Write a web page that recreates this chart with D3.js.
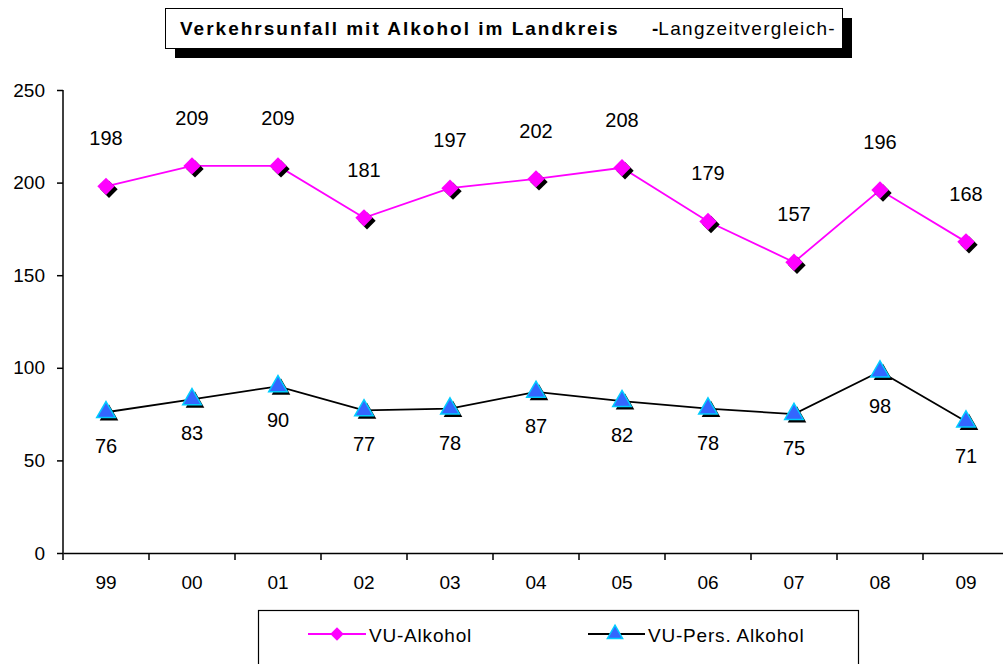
<!DOCTYPE html>
<html>
<head>
<meta charset="utf-8">
<script src="https://cdn.jsdelivr.net/npm/d3@7"></script>
<style>
  body { margin: 0; background: #fff; }
  svg { display: block; font-family: "Liberation Sans", Arial, sans-serif; }
</style>
</head>
<body>
<div id="chart"></div>
<script>
"use strict";

const years = ["99", "00", "01", "02", "03", "04", "05", "06", "07", "08", "09"];
const vuAlkohol = [198, 209, 209, 181, 197, 202, 208, 179, 157, 196, 168];
const vuPersAlkohol = [76, 83, 90, 77, 78, 87, 82, 78, 75, 98, 71];
const yTicks = [0, 50, 100, 150, 200, 250];

function _main() {
  const svg = d3.select("#chart").append("svg").attr("width", 1003).attr("height", 664);

  const xScale = d3.scaleBand().domain(years).range([63, 1009]);
  const yScale = d3.scaleLinear().domain([0, 250]).range([553, 90]);
  const cx = (i) => xScale(years[i]) + xScale.bandwidth() / 2;

  addTitle(svg);
  addAxes(svg, xScale, yScale);

  const lineGen = d3.line().x((d, i) => cx(i)).y((d) => yScale(d));
  svg.append("path").datum(vuAlkohol).attr("d", lineGen)
    .attr("fill", "none").attr("stroke", "#ff00ff").attr("stroke-width", 1.8);
  svg.append("path").datum(vuPersAlkohol).attr("d", lineGen)
    .attr("fill", "none").attr("stroke", "#000").attr("stroke-width", 1.8);

  const diamond = d3.symbol().type(d3.symbolSquare).size(150)();
  const tri = d3.symbol().type(d3.symbolTriangle).size(150)();

  vuAlkohol.forEach((v, i) => {
    const g = svg.append("g").attr("transform", `translate(${cx(i)},${yScale(v)})`);
    g.append("path").attr("d", diamond).attr("transform", "translate(3,3) rotate(45)").attr("fill", "#000");
    g.append("path").attr("d", diamond).attr("transform", "rotate(45)").attr("fill", "#ff00ff");
    svg.append("text").attr("x", cx(i)).attr("y", yScale(v) - 41)
      .attr("text-anchor", "middle").attr("font-size", 20).text(v);
  });

  vuPersAlkohol.forEach((v, i) => {
    const g = svg.append("g").attr("transform", `translate(${cx(i)},${yScale(v)})`);
    g.append("path").attr("d", tri).attr("transform", "translate(3,3)").attr("fill", "#000");
    g.append("path").attr("d", tri).attr("fill", "#3366ff").attr("stroke", "#00ccff").attr("stroke-width", 1.5);
    svg.append("text").attr("x", cx(i)).attr("y", yScale(v) + 41)
      .attr("text-anchor", "middle").attr("font-size", 20).text(v);
  });

  addLegend(svg);
}

function addTitle(svg) {
  svg.append("rect").attr("x", 175).attr("y", 18).attr("width", 677).attr("height", 40).attr("fill", "#000");
  svg.append("rect").attr("x", 165.5).attr("y", 8.5).attr("width", 677).attr("height", 40)
    .attr("fill", "#fff").attr("stroke", "#000").attr("stroke-width", 1);
  const t = svg.append("text").attr("x", 180).attr("y", 35).attr("font-size", 19);
  t.append("tspan").attr("font-weight", "bold").attr("letter-spacing", 2)
    .text("Verkehrsunfall mit Alkohol im Landkreis");
  t.append("tspan").attr("x", 652).attr("font-weight", "bold").text("-");
  t.append("tspan").attr("letter-spacing", 1.3).text("Langzeitvergleich-");
}

function addAxes(svg, xScale, yScale) {
  const xAxis = d3.axisBottom(xScale).tickSize(0).tickPadding(23);
  const gx = svg.append("g").attr("transform", "translate(0,553)").call(xAxis);
  gx.select(".domain").attr("stroke", "#000").attr("stroke-width", 1.5);
  gx.selectAll("text").attr("font-size", 19).attr("font-family", "Liberation Sans, Arial, sans-serif").attr("fill", "#000");
  // tick marks between categories
  svg.selectAll(".xsep").data(years).enter().append("line")
    .attr("x1", (d) => xScale(d)).attr("x2", (d) => xScale(d))
    .attr("y1", 553).attr("y2", 560).attr("stroke", "#000").attr("stroke-width", 1.5);

  const yAxis = d3.axisLeft(yScale).tickValues(yTicks).tickSize(6).tickPadding(12);
  const gy = svg.append("g").attr("transform", "translate(63,0)").call(yAxis);
  gy.select(".domain").attr("d", "M0,90V553").attr("stroke", "#000").attr("stroke-width", 1.5);
  gy.selectAll("line").attr("stroke", "#000").attr("stroke-width", 1.5);
  gy.selectAll("text").attr("font-size", 19).attr("font-family", "Liberation Sans, Arial, sans-serif").attr("fill", "#000");
}

function addLegend(svg) {
  svg.append("rect").attr("x", 258.5).attr("y", 610.5).attr("width", 600).attr("height", 60)
    .attr("fill", "#fff").attr("stroke", "#000").attr("stroke-width", 1.2);

  svg.append("line").attr("x1", 308).attr("x2", 366).attr("y1", 634).attr("y2", 634)
    .attr("stroke", "#ff00ff").attr("stroke-width", 2);
  svg.append("path").attr("d", d3.symbol().type(d3.symbolSquare).size(90)())
    .attr("transform", "translate(337,634) rotate(45)").attr("fill", "#ff00ff");
  svg.append("text").attr("x", 369).attr("y", 642).attr("font-size", 19).attr("letter-spacing", 0.8).text("VU-Alkohol");

  svg.append("line").attr("x1", 588).attr("x2", 645).attr("y1", 634).attr("y2", 634)
    .attr("stroke", "#000").attr("stroke-width", 2);
  svg.append("path").attr("d", d3.symbol().type(d3.symbolTriangle).size(100)())
    .attr("transform", "translate(615,634)").attr("fill", "#3366ff").attr("stroke", "#00ccff").attr("stroke-width", 1.5);
  svg.append("text").attr("x", 648).attr("y", 642).attr("font-size", 19).attr("letter-spacing", 0.8).text("VU-Pers. Alkohol");
}

_main();
</script>
</body>
</html>
